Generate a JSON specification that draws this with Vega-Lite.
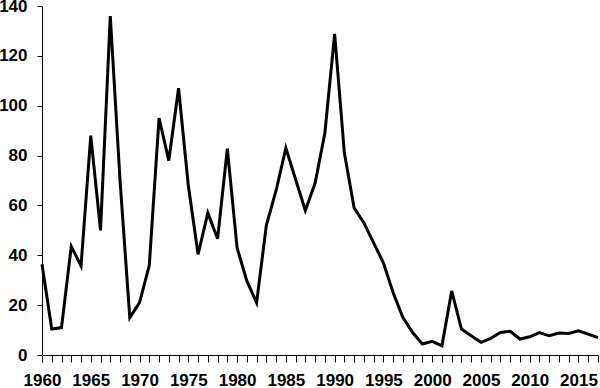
{
  "$schema": "https://vega.github.io/schema/vega-lite/v6.json",
  "width": 556,
  "height": 349,
  "autosize": {"type": "none"},
  "padding": {"left": 42, "top": 6, "right": 2, "bottom": 33},
  "background": "white",
  "config": {"view": {"stroke": null}},
  "data": {"values": [
    {"year": 1960, "value": 36.4}, {"year": 1961, "value": 10.4}, {"year": 1962, "value": 11},
    {"year": 1963, "value": 43.6}, {"year": 1964, "value": 35.7}, {"year": 1965, "value": 88},
    {"year": 1966, "value": 50}, {"year": 1967, "value": 136}, {"year": 1968, "value": 70},
    {"year": 1969, "value": 15}, {"year": 1970, "value": 21}, {"year": 1971, "value": 36},
    {"year": 1972, "value": 95}, {"year": 1973, "value": 78}, {"year": 1974, "value": 107},
    {"year": 1975, "value": 68}, {"year": 1976, "value": 40.4}, {"year": 1977, "value": 57},
    {"year": 1978, "value": 46.6}, {"year": 1979, "value": 82.8}, {"year": 1980, "value": 43},
    {"year": 1981, "value": 29.7}, {"year": 1982, "value": 21}, {"year": 1983, "value": 52},
    {"year": 1984, "value": 66}, {"year": 1985, "value": 83}, {"year": 1986, "value": 70.4},
    {"year": 1987, "value": 58}, {"year": 1988, "value": 69}, {"year": 1989, "value": 89},
    {"year": 1990, "value": 128.8}, {"year": 1991, "value": 81}, {"year": 1992, "value": 59},
    {"year": 1993, "value": 53}, {"year": 1994, "value": 45}, {"year": 1995, "value": 37},
    {"year": 1996, "value": 25}, {"year": 1997, "value": 15}, {"year": 1998, "value": 9},
    {"year": 1999, "value": 4.4}, {"year": 2000, "value": 5.5}, {"year": 2001, "value": 3.7},
    {"year": 2002, "value": 25.7}, {"year": 2003, "value": 10.4}, {"year": 2004, "value": 7.7},
    {"year": 2005, "value": 5.1}, {"year": 2006, "value": 6.7}, {"year": 2007, "value": 9},
    {"year": 2008, "value": 9.5}, {"year": 2009, "value": 6.4}, {"year": 2010, "value": 7.3},
    {"year": 2011, "value": 9}, {"year": 2012, "value": 7.7}, {"year": 2013, "value": 8.8},
    {"year": 2014, "value": 8.6}, {"year": 2015, "value": 9.7}, {"year": 2016, "value": 8.4},
    {"year": 2017, "value": 7}
  ]},
  "mark": {"type": "line", "color": "black", "strokeWidth": 3, "strokeJoin": "miter", "clip": false},
  "encoding": {
    "x": {
      "field": "year", "type": "quantitative",
      "scale": {"domain": [1960, 2017], "nice": false, "zero": false},
      "axis": {
        "title": null, "grid": false, "domainColor": "black", "domainWidth": 1,
        "tickColor": "black", "tickSize": 7, "tickWidth": 1,
        "values": [1960,1961,1962,1963,1964,1965,1966,1967,1968,1969,1970,1971,1972,1973,1974,1975,1976,1977,1978,1979,1980,1981,1982,1983,1984,1985,1986,1987,1988,1989,1990,1991,1992,1993,1994,1995,1996,1997,1998,1999,2000,2001,2002,2003,2004,2005,2006,2007,2008,2009,2010,2011,2012,2013,2014,2015,2016,2017],
        "labelExpr": "datum.value % 5 === 0 ? format(datum.value, 'd') : ''",
        "labelOverlap": false, "labelFlush": false,
        "labelFont": "Liberation Sans", "labelFontSize": 17, "labelFontWeight": "bold",
        "labelColor": "black", "labelPadding": 10
      }
    },
    "y": {
      "field": "value", "type": "quantitative",
      "scale": {"domain": [0, 140], "nice": false},
      "axis": {
        "title": null, "grid": false, "domainColor": "black", "domainWidth": 1,
        "tickColor": "black", "tickSize": 5, "tickWidth": 1,
        "values": [0, 20, 40, 60, 80, 100, 120, 140],
        "labelFont": "Liberation Sans", "labelFontSize": 17, "labelFontWeight": "bold",
        "labelColor": "black", "labelPadding": 10
      }
    }
  }
}
